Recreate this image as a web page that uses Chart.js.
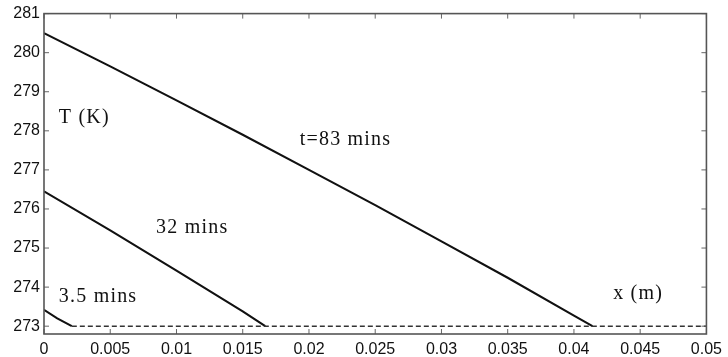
<!DOCTYPE html>
<html>
<head>
<meta charset="utf-8">
<script src="https://cdn.jsdelivr.net/npm/chart.js@4/dist/chart.umd.min.js"></script>
<style>
    html, body { margin: 0; padding: 0; background: #fff; }
    #wrap { width: 728px; height: 357px; }
</style>
</head>
<body>
<div id="wrap"><canvas id="perfil"></canvas></div>
<script>
// posição (m) e temperatura (K) de cada perfil
const x83 = [0, 0.005, 0.01, 0.015, 0.02, 0.025, 0.03, 0.035, 0.04, 0.0414];
const t83 = [280.5, 279.65, 278.78, 277.9, 277.0, 276.1, 275.17, 274.24, 273.27, 273.0];

const x32 = [0, 0.005, 0.01, 0.015, 0.0167];
const t32 = [276.45, 275.45, 274.42, 273.38, 273.0];

const x35 = [0, 0.001, 0.0021];
const t35 = [273.42, 273.2, 273.0];

const xFusao = [0.0021, 0.05];
const tFusao = [273.0, 273.0];

const xTicks = [0, 0.005, 0.01, 0.015, 0.02, 0.025, 0.03, 0.035, 0.04, 0.045, 0.05];
const xTickLabels = ['0', '0.005', '0.01', '0.015', '0.02', '0.025', '0.03', '0.035', '0.04', '0.045', '0.05'];
const yTicks = [273, 274, 275, 276, 277, 278, 279, 280, 281];

// textos dentro do gráfico, ancorados em coordenadas dos dados
const rotulos = [
    { texto: 'T (K)', x: 0.00112, y: 278.33 },
    { texto: 't=83 mins', x: 0.0193, y: 277.77 },
    { texto: '32 mins', x: 0.00846, y: 275.51 },
    { texto: '3.5 mins', x: 0.00112, y: 273.76 },
    { texto: 'x (m)', x: 0.04296, y: 273.84 }
];

function pontos(xs, ys) {
    return xs.map((v, i) => ({ x: v, y: ys[i] }));
}

function serie(xs, ys, tracejado) {
    return {
        data: pontos(xs, ys),
        showLine: true,
        borderColor: tracejado ? '#333' : '#111',
        borderWidth: tracejado ? 1.4 : 2.1,
        borderDash: tracejado ? [5, 3] : [],
        pointRadius: 0,
        tension: 0,
        fill: false
    };
}

// moldura e marcas de escala voltadas para dentro (estilo matlab)
const moldura = {
    id: 'moldura',
    afterDatasetsDraw(chart) {
        const { ctx, chartArea: a, scales } = chart;
        const tam = 5;
        ctx.save();
        ctx.strokeStyle = '#666';
        ctx.lineWidth = 1;
        ctx.beginPath();
        scales.x.ticks.forEach(t => {
            const px = scales.x.getPixelForValue(t.value);
            ctx.moveTo(px, a.bottom); ctx.lineTo(px, a.bottom - tam);
            ctx.moveTo(px, a.top); ctx.lineTo(px, a.top + tam);
        });
        scales.y.ticks.forEach(t => {
            const py = scales.y.getPixelForValue(t.value);
            ctx.moveTo(a.left, py); ctx.lineTo(a.left + tam, py);
            ctx.moveTo(a.right, py); ctx.lineTo(a.right - tam, py);
        });
        ctx.stroke();
        ctx.lineWidth = 1.6;
        ctx.strokeStyle = '#555';
        ctx.strokeRect(a.left, a.top, a.right - a.left, a.bottom - a.top);

        ctx.fillStyle = '#111';
        ctx.font = '20px "Liberation Serif", "DejaVu Serif", serif';
        ctx.letterSpacing = '1.2px';
        ctx.textAlign = 'left';
        ctx.textBaseline = 'middle';
        rotulos.forEach(r => {
            ctx.fillText(r.texto, scales.x.getPixelForValue(r.x), scales.y.getPixelForValue(r.y));
        });
        ctx.restore();
    }
};

new Chart(document.getElementById('perfil').getContext('2d'), {
    type: 'scatter',
    data: {
        datasets: [
            serie(xFusao, tFusao, true),
            serie(x83, t83, false),
            serie(x32, t32, false),
            serie(x35, t35, false)
        ]
    },
    options: {
        responsive: true,
        maintainAspectRatio: false,
        animation: false,
        layout: { padding: { top: 11, right: 16, left: 0, bottom: 0 } },
        plugins: {
            legend: { display: false },
            tooltip: { enabled: false }
        },
        scales: {
            x: {
                type: 'linear',
                min: 0,
                max: 0.05,
                grid: { display: false, drawTicks: false },
                border: { display: false },
                afterBuildTicks: axis => { axis.ticks = xTicks.map(v => ({ value: v })); },
                afterFit: axis => { axis.height = 23; },
                ticks: {
                    padding: 6,
                    maxRotation: 0,
                    autoSkip: false,
                    color: '#111',
                    font: { family: '"Liberation Sans", Arial, sans-serif', size: 16 },
                    callback: (value, i) => xTickLabels[i]
                }
            },
            y: {
                type: 'linear',
                min: 272.8,
                max: 281,
                grid: { display: false, drawTicks: false },
                border: { display: false },
                afterBuildTicks: axis => { axis.ticks = yTicks.map(v => ({ value: v })); },
                afterFit: axis => { axis.width = 44; },
                ticks: {
                    padding: 4,
                    autoSkip: false,
                    color: '#111',
                    font: { family: '"Liberation Sans", Arial, sans-serif', size: 16 },
                    callback: value => String(value)
                }
            }
        }
    },
    plugins: [moldura]
});
</script>
</body>
</html>
